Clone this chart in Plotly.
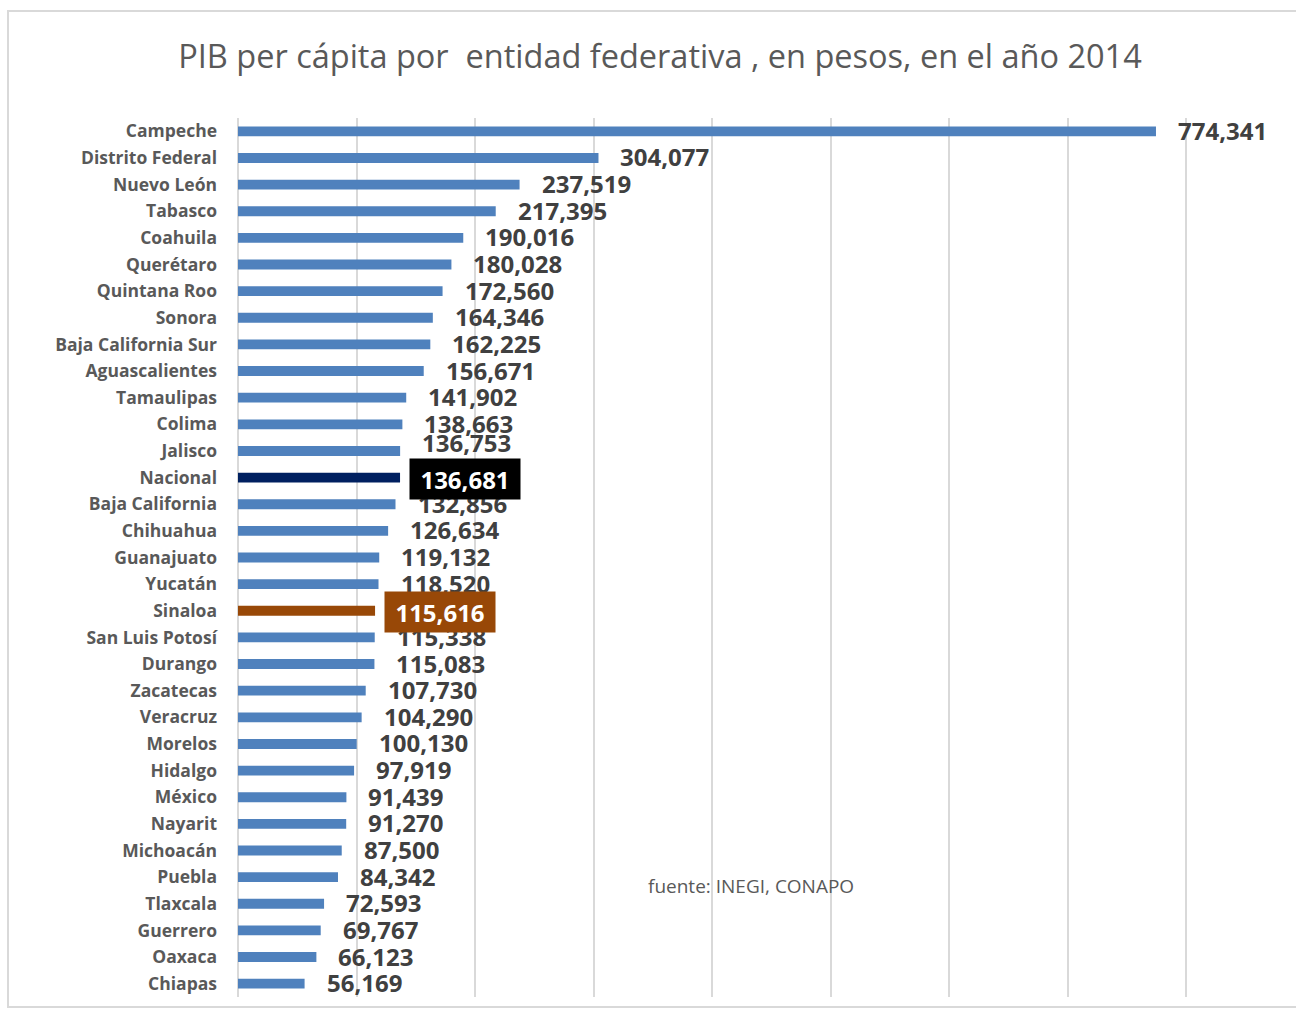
import plotly.graph_objects as go

estados = ["Campeche", "Distrito Federal", "Nuevo León", "Tabasco", "Coahuila", "Querétaro",
           "Quintana Roo", "Sonora", "Baja California Sur", "Aguascalientes", "Tamaulipas",
           "Colima", "Jalisco", "Nacional", "Baja California", "Chihuahua", "Guanajuato",
           "Yucatán", "Sinaloa", "San Luis Potosí", "Durango", "Zacatecas", "Veracruz",
           "Morelos", "Hidalgo", "México", "Nayarit", "Michoacán", "Puebla", "Tlaxcala",
           "Guerrero", "Oaxaca", "Chiapas"]
pib = [774341, 304077, 237519, 217395, 190016, 180028, 172560, 164346, 162225, 156671,
       141902, 138663, 136753, 136681, 132856, 126634, 119132, 118520, 115616, 115338,
       115083, 107730, 104290, 100130, 97919, 91439, 91270, 87500, 84342, 72593,
       69767, 66123, 56169]
titulo = "PIB per cápita por  entidad federativa , en pesos, en el año 2014"
fuente = "fuente: INEGI, CONAPO"

BLUE = "#4F81BD"
NAVY = "#002060"
BROWN = "#984807"
special = {"Nacional": (NAVY, "#000000"), "Sinaloa": (BROWN, BROWN)}
yshifts = {"Jalisco": 8}

FONT = "Open Sans, sans-serif"

colors = [special[e][0] if e in special else BLUE for e in estados]

fig = go.Figure()
fig.add_trace(go.Bar(
    x=pib, y=estados, orientation="h",
    marker=dict(color=colors, line=dict(width=0)),
    hoverinfo="x+y",
))

# draw normal labels first, boxed labels last (on top)
order = [i for i, e in enumerate(estados) if e not in special] + \
        [i for i, e in enumerate(estados) if e in special]
for i in order:
    e, v = estados[i], pib[i]
    if e in special:
        fig.add_annotation(
            x=v, y=e, xref="x", yref="y", text=f"{v:,}", showarrow=False,
            xanchor="left", yanchor="middle", xshift=9, yshift=-1,
            font=dict(family=FONT, size=24, color="#FFFFFF", weight="bold"),
            bgcolor=special[e][1], borderpad=4, width=102, height=32, align="center",
        )
    else:
        fig.add_annotation(
            x=v, y=e, xref="x", yref="y", text=f"{v:,}", showarrow=False,
            xanchor="left", yanchor="middle", xshift=20, yshift=yshifts.get(e, 1),
            font=dict(family=FONT, size=24, color="#404040", weight="bold"),
        )

fig.add_annotation(
    x=(646 - 238) / 1058, y=(997 - 886) / 879, xref="paper", yref="paper",
    text=fuente, showarrow=False, xanchor="left", yanchor="middle",
    font=dict(family=FONT, size=19, color="#595959"),
)

# chart border
fig.add_shape(type="rect", xref="paper", yref="paper",
              x0=(8 - 238) / 1058, x1=(1302 - 238) / 1058,
              y0=(997 - 1007) / 879, y1=(997 - 11) / 879,
              line=dict(color="#D9D9D9", width=2), fillcolor="rgba(0,0,0,0)", layer="below")

n = len(estados)
fig.update_layout(
    width=1296, height=1010,
    margin=dict(l=238, r=0, t=118, b=13),
    paper_bgcolor="white", plot_bgcolor="white",
    bargap=0.63, showlegend=False,
    title=dict(text=titulo, x=660 / 1296, xanchor="center", y=1 - 57 / 1010, yanchor="middle",
               xref="container", yref="container",
               font=dict(family=FONT, size=32.5, color="#595959")),
    xaxis=dict(range=[0, 892450], tick0=0, dtick=100000, showgrid=True, gridcolor="#D9D9D9",
               gridwidth=2, zeroline=True, zerolinecolor="#D9D9D9", zerolinewidth=2,
               showticklabels=False, showline=False, fixedrange=True),
    yaxis=dict(categoryorder="array", categoryarray=estados, range=[n - 0.5, -0.5],
               autorange=False, ticklabelstandoff=20, showline=False, showgrid=False,
               fixedrange=True,
               tickfont=dict(family=FONT, size=17.5, color="#595959", weight="bold")),
)

fig.write_html("out.html", config={"displayModeBar": False},
               post_script="document.body.style.margin='0';document.body.style.overflow='hidden';")
